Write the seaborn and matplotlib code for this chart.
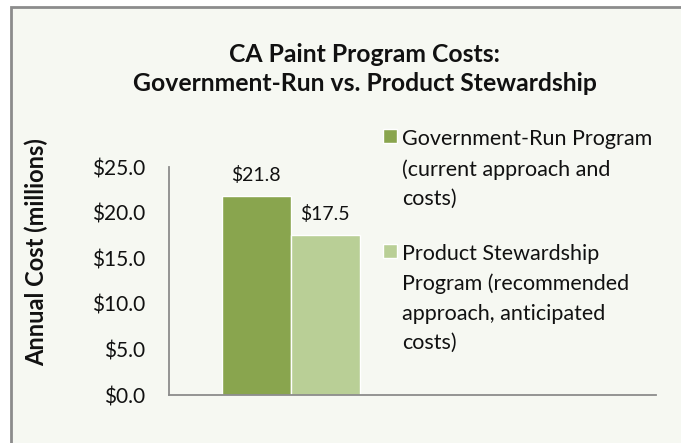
import matplotlib
matplotlib.use("Agg")
import matplotlib.pyplot as plt
import matplotlib.patches as mpatches
import pandas as pd
import seaborn as sns

# chart data
slots = ["CA Paint", " "]                      # second slot is empty in the original
programs = ["Government-Run Program\n(current approach and\ncosts)",
            "Product Stewardship\nProgram (recommended\napproach, anticipated\ncosts)"]
costs = [21.8, 17.5]
colors = ["#89A54E", "#B9CF96"]
yticks = [0, 5, 10, 15, 20, 25]

df = pd.DataFrame({"slot": [slots[0], slots[0]], "program": programs, "cost": costs})

sns.set_style("white")
plt.rcParams["font.family"] = ["Lato", "DejaVu Sans"]

fig = plt.figure(figsize=(6.81, 4.43), dpi=100)
fig.patch.set_facecolor("white")
# chart area frame
fig.patches.append(mpatches.Rectangle((11 / 681, -0.05), 1.0, 1.034, transform=fig.transFigure,
                                      facecolor="#F6F8F2", edgecolor="#8C8C8C", lw=2, zorder=-1))

ax = fig.add_axes([169 / 681, 1 - 395 / 443, (656 - 169) / 681, (395 - 167) / 443])
ax.set_facecolor("none")
sns.barplot(data=df, x="slot", y="cost", hue="program", order=slots, hue_order=programs,
            palette=colors, width=0.567, saturation=1, ax=ax)

for c in ax.containers:
    ax.bar_label(c, fmt="${:.1f}", padding=9, fontsize=14, color="#111111")

ax.set_ylim(0, 25)
ax.set_yticks(yticks)
ax.yaxis.set_major_formatter(matplotlib.ticker.StrMethodFormatter("${x:.1f}"))
ax.set_xlim(-0.5, 1.5)
ax.set_xticks([-0.5, 0.5, 1.5])
ax.set_xticklabels([])
ax.set_xlabel("")
ax.set_ylabel("")
for s in ["top", "right"]:
    ax.spines[s].set_visible(False)
for s in ["left", "bottom"]:
    ax.spines[s].set_color("#8C8C8C")
    ax.spines[s].set_linewidth(1.3)
ax.tick_params(axis="both", direction="out", length=6, width=1.3, color="#8C8C8C",
               labelsize=15, labelcolor="#111111")
ax.tick_params(axis="y", pad=11)
ax.tick_params(axis="x", length=8)

leg = ax.legend(loc="upper left", bbox_to_anchor=(383 / 681, 1 - 129 / 443),
                bbox_transform=fig.transFigure, frameon=False, fontsize=15.5,
                handlelength=0.65, handleheight=0.65, handletextpad=0.23,
                labelspacing=1.6, borderpad=0, borderaxespad=0)
for col in leg._legend_handle_box.get_children():
    for item in col.get_children():
        item.align = "top"
for t in leg.get_texts():
    t.set_linespacing(1.6)
    t.set_color("#111111")

fig.text(365 / 681, 1 - 69 / 443, "CA Paint Program Costs:\nGovernment-Run vs. Product Stewardship",
         ha="center", va="center", fontsize=17.8, fontweight="bold", linespacing=1.3, color="#111111")
fig.text(36 / 681, 1 - 252 / 443, "Annual Cost (millions)", rotation=90, ha="center", va="center",
         fontsize=17, fontweight="bold", color="#111111")

fig.savefig("out.png", dpi=100)
